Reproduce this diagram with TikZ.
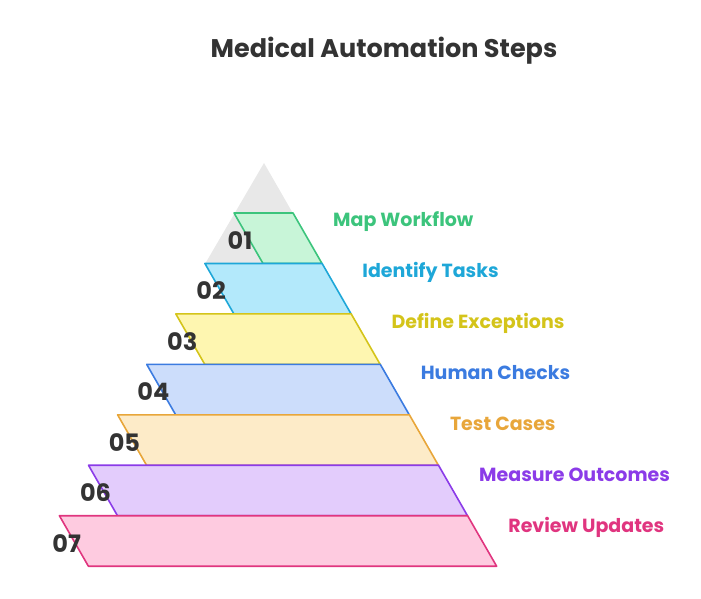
\documentclass[tikz,border=0pt]{standalone}
\usepackage{fontspec}
\setmainfont{Poppins}
\definecolor{ttl}{HTML}{333333}
\definecolor{tri}{HTML}{E8E8E8}
\definecolor{sA}{HTML}{3CC47C}\definecolor{fA}{HTML}{C8F5D8}
\definecolor{sB}{HTML}{1EA7D8}\definecolor{fB}{HTML}{B3E9FB}
\definecolor{sC}{HTML}{D4C41A}\definecolor{fC}{HTML}{FEF6B0}
\definecolor{sD}{HTML}{3B7BE0}\definecolor{fD}{HTML}{CCDDFB}
\definecolor{sE}{HTML}{E8A63A}\definecolor{fE}{HTML}{FDEBC8}
\definecolor{sF}{HTML}{8B3BE8}\definecolor{fF}{HTML}{E3CCFC}
\definecolor{sG}{HTML}{E0357F}\definecolor{fG}{HTML}{FECBE0}
\tikzset{
  band/.style={line width=1.6pt, line join=round},
  numlbl/.style={anchor=base, inner sep=0pt, text=ttl, font=\bfseries\fontsize{24}{24}\selectfont},
  steplbl/.style={anchor=base west, inner sep=0pt, font=\bfseries\fontsize{19}{19}\selectfont},
  titlelbl/.style={anchor=base, inner sep=0pt, text=ttl, font=\bfseries\fontsize{25.5}{25.5}\selectfont}
}
\begin{document}
\begin{tikzpicture}[x=1pt,y=-1pt]
\useasboundingbox (0,0) rectangle (701,599);
\node[titlelbl] (title) at (384,58) {Medical Automation Steps};
\fill[tri] (264,163) -- (322,264) -- (205,264) -- cycle;
\foreach \k/\s/\f/\num/\txt in {1/sA/fA/01/Map Workflow,2/sB/fB/02/Identify Tasks,3/sC/fC/03/Define Exceptions,4/sD/fD/04/Human Checks,5/sE/fE/05/Test Cases,6/sF/fF/06/Measure Outcomes,7/sG/fG/07/Review Updates}{
  \pgfmathsetmacro{\dx}{29.1*(\k-1)}
  \pgfmathsetmacro{\dy}{50.45*(\k-1)}
  \draw[band, draw=\s, fill=\f] (234-\dx,213+\dy) -- (293+\dx,213+\dy) -- (322+\dx,263.5+\dy) -- (263-\dx,263.5+\dy) -- cycle;
  \node[numlbl] (n\k) at (240-28.9*\k+28.9, 249+50.5*\k-50.5) {\num};
  \node[steplbl, text=\s] (l\k) at (333+29.2*\k-29.2, 226+51.15*\k-51.15) {\txt};
}
\end{tikzpicture}
\end{document}
